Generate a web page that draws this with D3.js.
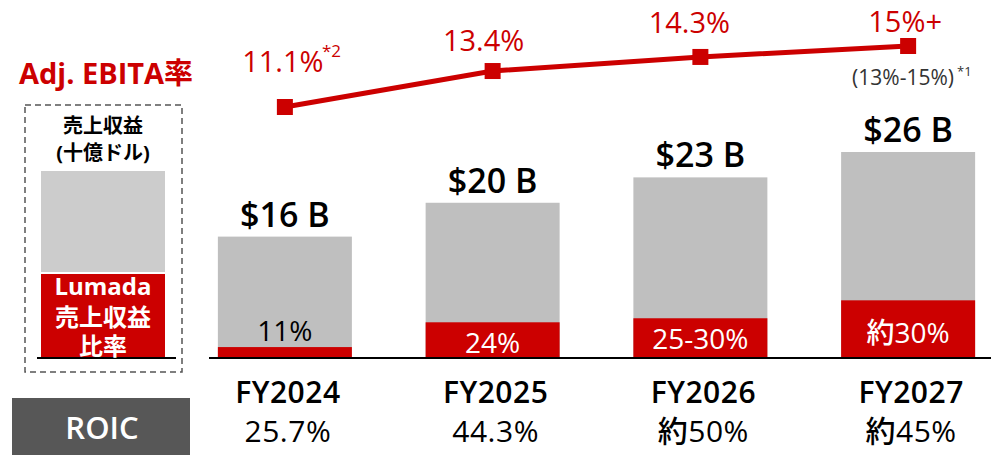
<!DOCTYPE html>
<html>
<head>
<meta charset="utf-8">
<script src="https://cdn.jsdelivr.net/npm/d3@7"></script>
<style>
  body { margin: 0; background: #fff; }
  svg { display: block; font-family: "Open Sans", "Noto Sans CJK JP", sans-serif; }
</style>
</head>
<body>
<svg width="991" height="455"></svg>
<script>
var years = ["FY2024", "FY2025", "FY2026", "FY2027"];
var revenue = [16, 20, 23, 26];
var revenueLabels = ["$16 B", "$20 B", "$23 B", "$26 B"];
var lumadaShare = [9, 23, 22, 28];          // drawn share of bar (%)
var lumadaLabels = ["11%", "24%", "25-30%", "約30%"];
var ebita = [11.1, 13.4, 14.3, 15];
var ebitaLabels = ["11.1%", "13.4%", "14.3%", "15%+"];
var roic = ["25.7%", "44.3%", "約50%", "約45%"];

var svg = d3.select("svg"),
    width = +svg.attr("width"),
    height = +svg.attr("height");

var red = "#cc0000",
    barGray = "#bfbfbf",
    baseline = 358;

var x = d3.scaleBand()
    .domain(years)
    .range([181, 1012])
    .paddingInner(0.355)
    .paddingOuter(0.1775);

var y = d3.scaleLinear()
    .domain([0, 26])
    .range([372, 152]);

var yLine = d3.scaleLinear()
    .domain([11.1, 15])
    .range([107, 46]);

var cx = d => x(d) + x.bandwidth() / 2;

// legend on the left
var lg = svg.append("g");
lg.append("text")
    .attr("x", 106).attr("y", 84)
    .attr("text-anchor", "middle")
    .attr("fill", red)
    .attr("font-weight", 700)
    .attr("font-size", 29)
    .text("Adj. EBITA率");
lg.append("rect")
    .attr("x", 25).attr("y", 105).attr("width", 157).attr("height", 267)
    .attr("fill", "none").attr("stroke", "#555")
    .attr("stroke-width", 1.5).attr("stroke-dasharray", "6,4");
lg.append("text")
    .attr("x", 103).attr("y", 133)
    .attr("text-anchor", "middle").attr("font-weight", 700).attr("font-size", 20)
    .text("売上収益");
lg.append("text")
    .attr("x", 103).attr("y", 160)
    .attr("text-anchor", "middle").attr("font-weight", 700).attr("font-size", 20)
    .text("(十億ドル)");
lg.append("rect")
    .attr("x", 41).attr("y", 171).attr("width", 124).attr("height", 101)
    .attr("fill", "#cccccc");
lg.append("rect")
    .attr("x", 41).attr("y", 274).attr("width", 124).attr("height", 84)
    .attr("fill", red);
lg.append("line")
    .attr("x1", 37).attr("x2", 176).attr("y1", 358).attr("y2", 358)
    .attr("stroke", "#000").attr("stroke-width", 2);
lg.selectAll(".lgt")
    .data(["Lumada", "売上収益", "比率"])
    .enter().append("text")
    .attr("x", 103)
    .attr("y", (d, i) => [295, 326, 355][i])
    .attr("text-anchor", "middle")
    .attr("fill", "#fff")
    .attr("font-weight", 700)
    .attr("font-size", 24)
    .text(d => d);

// bars
var bar = svg.append("g").selectAll(".bar")
    .data(years)
    .enter().append("g")
    .attr("class", "bar");

bar.append("rect")
    .attr("x", d => x(d))
    .attr("y", (d, i) => y(revenue[i]))
    .attr("width", x.bandwidth())
    .attr("height", (d, i) => baseline - y(revenue[i]))
    .attr("fill", barGray);

var redTop = i => baseline - (baseline - y(revenue[i])) * lumadaShare[i] / 100;

bar.append("rect")
    .attr("x", d => x(d))
    .attr("y", (d, i) => redTop(i))
    .attr("width", x.bandwidth())
    .attr("height", (d, i) => baseline - redTop(i))
    .attr("fill", red);

bar.append("text")
    .attr("x", cx)
    .attr("y", (d, i) => y(revenue[i]) - 10)
    .attr("text-anchor", "middle")
    .attr("font-weight", 600)
    .attr("font-size", 34)
    .text((d, i) => revenueLabels[i]);

var innerY = [341, 353, 349, 343];
bar.append("text")
    .attr("x", cx)
    .attr("y", (d, i) => innerY[i])
    .attr("text-anchor", "middle")
    .attr("font-size", 28)
    .attr("font-weight", 500)
    .attr("fill", (d, i) => i == 0 ? "#000" : "#fff")
    .text((d, i) => lumadaLabels[i]);

svg.append("line")
    .attr("x1", 209).attr("x2", width).attr("y1", baseline).attr("y2", baseline)
    .attr("stroke", "#000").attr("stroke-width", 2);

// EBITA line
var line = d3.line()
    .x((d, i) => cx(years[i]))
    .y(d => yLine(d));

svg.append("path")
    .datum(ebita)
    .attr("d", line)
    .attr("fill", "none")
    .attr("stroke", red)
    .attr("stroke-width", 5);

svg.selectAll(".marker")
    .data(ebita)
    .enter().append("rect")
    .attr("x", (d, i) => cx(years[i]) - 8)
    .attr("y", d => yLine(d) - 8)
    .attr("width", 16).attr("height", 16)
    .attr("fill", red);

var labelDx = [-2, -9, -11, -3],
    labelDy = [-35, -20, -24, -14];
svg.selectAll(".elab")
    .data(ebita)
    .enter().append("text")
    .attr("x", (d, i) => cx(years[i]) + labelDx[i])
    .attr("y", (d, i) => yLine(d) + labelDy[i])
    .attr("text-anchor", "middle")
    .attr("fill", red)
    .attr("font-size", 29)
    .text((d, i) => ebitaLabels[i]);

svg.append("text")
    .attr("x", 322).attr("y", 57)
    .attr("fill", red).attr("font-size", 17)
    .text("*2");

svg.append("text")
    .attr("x", 954).attr("y", 85)
    .attr("text-anchor", "end")
    .attr("fill", "#333").attr("font-size", 21)
    .text("(13%-15%)");
svg.append("text")
    .attr("x", 957).attr("y", 76)
    .attr("fill", "#333").attr("font-size", 13)
    .text("*1");

// bottom labels
var bottom = svg.append("g").selectAll(".yr")
    .data(years)
    .enter().append("g");
bottom.append("text")
    .attr("x", d => cx(d) + 3)
    .attr("y", 403)
    .attr("text-anchor", "middle")
    .attr("font-weight", 600)
    .attr("font-size", 30)
    .attr("letter-spacing", 0.5)
    .text(d => d);
bottom.append("text")
    .attr("x", d => cx(d) + 3)
    .attr("y", 442)
    .attr("text-anchor", "middle")
    .attr("font-weight", 500)
    .attr("font-size", 30)
    .attr("letter-spacing", 0.5)
    .text((d, i) => roic[i]);

svg.append("rect")
    .attr("x", 12).attr("y", 398).attr("width", 178).attr("height", 57)
    .attr("fill", "#575757");
svg.append("text")
    .attr("x", 102).attr("y", 439)
    .attr("text-anchor", "middle")
    .attr("fill", "#fff")
    .attr("font-weight", 600)
    .attr("font-size", 31)
    .text("ROIC");
</script>
</body>
</html>
